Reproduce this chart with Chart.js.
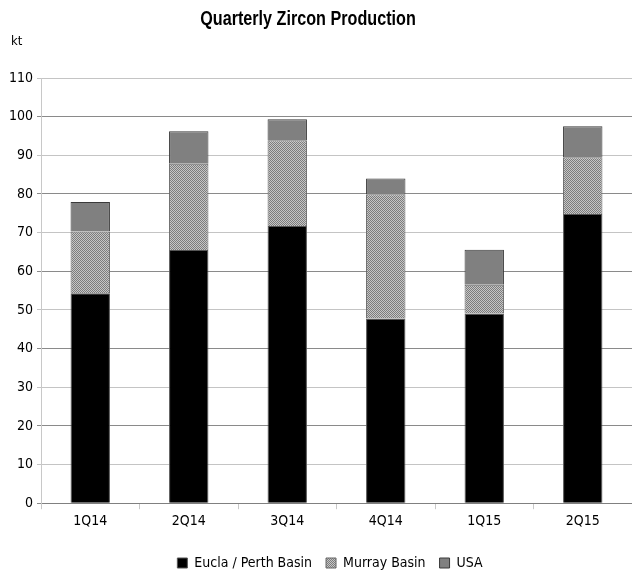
<!DOCTYPE html>
<html>
<head>
<meta charset="utf-8">
<script src="https://cdn.jsdelivr.net/npm/chart.js@4/dist/chart.umd.min.js"></script>
<style>
  html, body { margin: 0; padding: 0; background: #fff; }
  #wrap { width: 632px; height: 577px; }
</style>
</head>
<body>
<div id="wrap"><canvas id="barChart"></canvas></div>
<script>
var quarters = ['1Q14', '2Q14', '3Q14', '4Q14', '1Q15', '2Q15'];
var euclaPerth = [54.3, 65.5, 71.7, 47.8, 49.1, 74.8];
var murray = [16.0, 22.3, 22.2, 32.1, 7.4, 14.7];
var usa = [7.6, 8.4, 5.4, 4.1, 9.1, 8.0];

var narrow = "'DejaVu Sans Condensed', 'Liberation Sans', Arial, sans-serif";

// stippled fill for the Murray Basin series
function makeStipple() {
  var c = document.createElement('canvas');
  c.width = 2; c.height = 2;
  var g = c.getContext('2d');
  g.fillStyle = '#c6c6c6';
  g.fillRect(0, 0, 2, 2);
  g.fillStyle = '#7c7c7c';
  g.fillRect(0, 0, 1, 1);
  g.fillRect(1, 1, 1, 1);
  return g.createPattern(c, 'repeat');
}
var stipple = makeStipple();

// title and unit label, title squeezed to look like a narrow face
var extraText = {
  id: 'extraText',
  afterLayout: function(chart) {
    chart.legend.left += 14;
    chart.legend.right += 14;
    chart.legend.top += 3;
    chart.legend.bottom += 3;
  },
  afterDraw: function(chart) {
    var c = chart.ctx;
    c.save();
    c.fillStyle = '#000';
    c.textBaseline = 'middle';
    c.save();
    c.translate(308, 19);
    c.scale(0.77, 1);
    c.font = 'bold 21px "Liberation Sans", Arial, sans-serif';
    c.textAlign = 'center';
    c.fillText('Quarterly Zircon Production', 0, 0);
    c.restore();
    c.font = '13px ' + narrow;
    c.textAlign = 'left';
    c.fillText('kt', 11, 42);
    c.restore();
  }
};

var ctx = document.getElementById('barChart');
var myChart = new Chart(ctx, {
  type: 'bar',
  data: {
    labels: quarters,
    datasets: [{
      label: 'Eucla / Perth Basin',
      data: euclaPerth,
      backgroundColor: '#000',
      borderColor: '#555',
      borderWidth: 1
    }, {
      label: 'Murray Basin',
      data: murray,
      backgroundColor: stipple,
      borderColor: '#666',
      borderWidth: 1
    }, {
      label: 'USA',
      data: usa,
      backgroundColor: '#808080',
      borderColor: '#3a3a3a',
      borderWidth: 1
    }]
  },
  options: {
    responsive: true,
    maintainAspectRatio: false,
    animation: false,
    layout: { padding: { top: 78, right: 0, left: 0, bottom: 0 } },
    datasets: { bar: { categoryPercentage: 1, barPercentage: 0.4 } },
    scales: {
      x: {
        stacked: true,
        afterFit: function(s) { s.height += 5; },
        grid: { display: true, offset: true, drawOnChartArea: false, color: '#c8c8c8', tickLength: 6 },
        border: { color: '#808080' },
        ticks: { color: '#000', font: { family: narrow, size: 14 }, padding: 4 }
      },
      y: {
        stacked: true,
        min: 0, max: 110,
        afterFit: function(s) { s.width = 41; },
        ticks: { stepSize: 10, color: '#000', font: { family: narrow, size: 14 }, padding: 4 },
        grid: { color: function(c) { return c.index % 2 ? '#c4c4c4' : '#8a8a8a'; }, tickLength: 4 },
        border: { color: '#c8c8c8' }
      }
    },
    plugins: {
      legend: {
        position: 'bottom',
        labels: { color: '#000', boxWidth: 10, boxHeight: 10, padding: 14, font: { family: narrow, size: 14 } }
      },
      title: { display: false },
      tooltip: { enabled: false }
    }
  },
  plugins: [extraText]
});
</script>
</body>
</html>
